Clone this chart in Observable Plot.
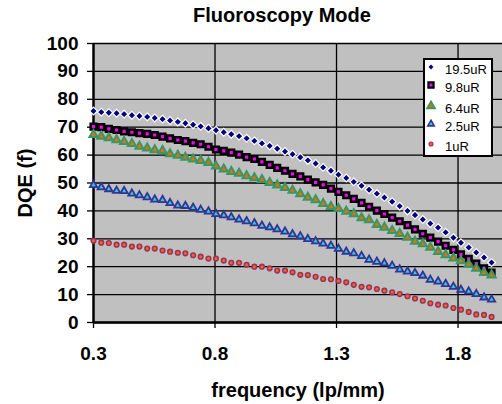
<!DOCTYPE html>
<html><head><meta charset="utf-8">
<script src="https://cdn.jsdelivr.net/npm/d3@7"></script>
<script src="https://cdn.jsdelivr.net/npm/@observablehq/plot@0.6"></script>
<style>
body{margin:0;background:#fff;}
#wrap{position:relative;width:502px;height:404px;overflow:hidden;font-family:"Liberation Sans",Arial,sans-serif;color:#000;}
#wrap svg{position:absolute;left:0;top:0;}
.t{position:absolute;font-weight:bold;font-size:20px;line-height:20px;white-space:nowrap;text-align:center;}
#legend{position:absolute;left:423px;top:58px;width:70px;height:99px;box-sizing:border-box;border:2px solid #000;background:#fff;}
.lrow{position:absolute;left:0;height:18px;font-size:13px;line-height:18px;}
.lrow svg{position:absolute;left:4px;top:3px;}
.lrow span{position:absolute;left:20px;top:0;}
</style></head>
<body><div id="wrap"></div>
<script>
const title = "Fluoroscopy Mode";
const xTitle = "frequency (lp/mm)";
const yTitle = "DQE (f)";
const yTicks = [0,10,20,30,40,50,60,70,80,90,100];
const xTicks = [0.3,0.8,1.3,1.8];
const seriesNames = ["19.5uR","9.8uR","6.4uR","2.5uR","1uR"];

const freq = [0.300,0.332,0.363,0.395,0.426,0.458,0.489,0.521,0.552,0.584,0.615,0.647,0.678,0.710,0.741,0.773,0.804,0.836,0.867,0.899,0.930,0.962,0.993,1.025,1.056,1.088,1.119,1.151,1.182,1.214,1.245,1.277,1.308,1.340,1.371,1.403,1.434,1.466,1.497,1.529,1.560,1.592,1.623,1.655,1.686,1.718,1.749,1.781,1.812,1.844,1.875,1.907,1.938];

const s195 = [75.8,75.4,75.2,75.0,74.7,74.3,74.0,73.7,73.3,72.9,72.4,71.9,71.4,70.9,70.3,69.6,68.9,68.2,67.5,66.8,66.0,65.1,64.2,63.3,62.3,61.3,60.3,59.2,58.1,57.0,55.6,54.4,53.0,51.8,50.4,49.0,47.6,46.2,44.8,43.3,41.7,40.0,38.5,36.9,35.5,34.0,32.3,30.4,28.6,26.9,25.1,23.3,21.5];
const s98 = [70.2,70.0,69.4,69.0,68.5,68.2,67.9,67.6,67.2,66.6,66.0,65.4,65.0,64.4,63.9,63.0,62.0,61.5,60.9,60.2,59.3,58.6,57.6,56.5,55.4,54.4,53.3,52.4,51.2,50.2,49.3,48.0,46.8,45.6,44.3,42.9,41.5,40.1,38.9,37.6,36.3,34.9,33.4,31.8,30.4,29.0,27.5,26.0,24.4,22.8,21.1,19.4,17.9];
const s64 = [67.3,66.7,66.2,65.4,64.8,64.1,63.1,62.5,61.9,61.6,60.4,59.9,59.2,58.5,58.0,57.3,56.0,55.0,54.1,53.4,52.5,51.8,51.2,50.1,49.2,48.3,47.3,46.1,44.8,43.9,42.6,41.5,40.8,39.8,38.9,37.5,36.8,35.1,34.1,32.9,31.8,30.5,29.1,28.2,26.9,25.4,24.2,23.1,22.1,20.8,19.4,17.9,17.0];
const s25 = [49.3,48.5,47.8,47.2,47.1,46.2,45.6,44.9,44.1,43.9,42.8,41.9,41.8,41.1,40.4,39.8,38.9,38.4,37.7,36.9,36.3,35.6,34.7,34.1,33.4,32.6,31.6,30.9,29.9,29.1,28.3,27.5,26.4,25.4,24.8,23.8,22.5,21.8,21.2,20.3,19.0,18.3,17.7,16.8,15.3,14.7,13.8,12.8,11.7,11.1,10.2,9.0,8.2];
const s1 = [29.3,28.6,28.5,27.9,27.9,27.2,27.2,26.5,26.5,25.8,25.4,25.0,24.8,24.1,23.6,22.9,22.9,22.2,21.4,21.4,20.7,20.0,20.0,19.4,18.6,18.6,18.0,17.1,17.0,16.4,15.6,15.5,14.9,14.4,13.5,12.8,12.6,12.0,11.4,10.8,10.2,9.4,8.6,7.8,6.9,6.4,6.1,5.2,4.6,3.8,2.9,2.7,2.0];

const seriesValues = [s195, s98, s64, s25, s1];
const styles = [
  {symbol:"diamond2", r:3.5, fill:"#000080", stroke:"#ffffff", strokeWidth:1.2, lr:2.2, lsw:0},
  {symbol:"square", r:3.2, fill:"#ff00ff", stroke:"#000000", strokeWidth:2.5, lr:2.9, lsw:2.2},
  {symbol:"triangle", r:3.0, fill:"#ff6600", stroke:"#339966", strokeWidth:2, lr:2.9, lsw:1.8},
  {symbol:"triangle", r:2.7, fill:"#33cccc", stroke:"#333399", strokeWidth:1.8, lr:2.4, lsw:1.6},
  {symbol:"circle", r:2.3, fill:"#ff6600", stroke:"#993366", strokeWidth:1.6, lr:1.9, lsw:1.3}
];

const rows = seriesNames.map((name, i) => seriesValues[i].map((v, k) => ({name, f: freq[k], v})));

const wrap = document.getElementById("wrap");
const chart = Plot.plot({
  width: 502, height: 404,
  marginTop: 43, marginBottom: 82, marginLeft: 93, marginRight: 0,
  style: {fontFamily: "'Liberation Sans', Arial, sans-serif", fontSize: "19px", fontWeight: "bold", background: "transparent", overflow: "visible"},
  x: {domain: [0.3, 1.983], label: null},
  y: {domain: [0, 100], label: null},
  marks: [
    Plot.frame({fill: "#c0c0c0", stroke: "none"}),
    Plot.gridY(yTicks, {stroke: "#000", strokeOpacity: 1, strokeWidth: 1.3}),
    Plot.gridX(xTicks.slice(1), {stroke: "#000", strokeOpacity: 1, strokeWidth: 1.3}),
    Plot.axisY(yTicks, {tickSize: 6, tickPadding: 9, label: null, strokeWidth: 1.3}),
    Plot.axisX(xTicks, {tickSize: 6, tickPadding: 18, label: null, strokeWidth: 1.3, tickFormat: d => d.toFixed(1)}),
    Plot.ruleY([0], {stroke: "#000", strokeWidth: 2.5}),
    Plot.ruleX([0.3], {stroke: "#000", strokeWidth: 2.5}),
    ...rows.map((data, i) => Plot.dot(data, {x: "f", y: "v", symbol: styles[i].symbol, r: styles[i].r, fill: styles[i].fill, stroke: styles[i].stroke, strokeWidth: styles[i].strokeWidth}))
  ]
});
wrap.appendChild(chart);

function addText(txt, css) {
  const d = document.createElement("div");
  d.className = "t";
  d.textContent = txt;
  Object.assign(d.style, css);
  wrap.appendChild(d);
}
addText(title, {left: "182px", width: "200px", top: "5px"});
addText(xTitle, {left: "198px", width: "200px", top: "380px"});
addText(yTitle, {left: "-75.5px", width: "200px", top: "173px", transform: "rotate(-90deg)"});

const legend = document.createElement("div");
legend.id = "legend";
wrap.appendChild(legend);
const rowTops = [1, 19, 39.5, 58, 78];
seriesNames.forEach((name, i) => {
  const s = styles[i];
  const row = document.createElement("div");
  row.className = "lrow";
  row.style.top = rowTops[i] + "px";
  const ns = "http://www.w3.org/2000/svg";
  const svg = document.createElementNS(ns, "svg");
  svg.setAttribute("width", 12); svg.setAttribute("height", 12);
  const path = document.createElementNS(ns, "path");
  const symMap = {diamond2: d3.symbolDiamond2, square: d3.symbolSquare, triangle: d3.symbolTriangle, circle: d3.symbolCircle};
  path.setAttribute("d", d3.symbol(symMap[s.symbol], Math.PI * s.lr * s.lr)());
  path.setAttribute("transform", "translate(6,6)");
  path.setAttribute("fill", s.fill);
  path.setAttribute("stroke", s.lsw ? s.stroke : "none");
  path.setAttribute("stroke-width", s.lsw);
  svg.appendChild(path);
  row.appendChild(svg);
  const sp = document.createElement("span");
  sp.textContent = name;
  row.appendChild(sp);
  legend.appendChild(row);
});
</script></body></html>
